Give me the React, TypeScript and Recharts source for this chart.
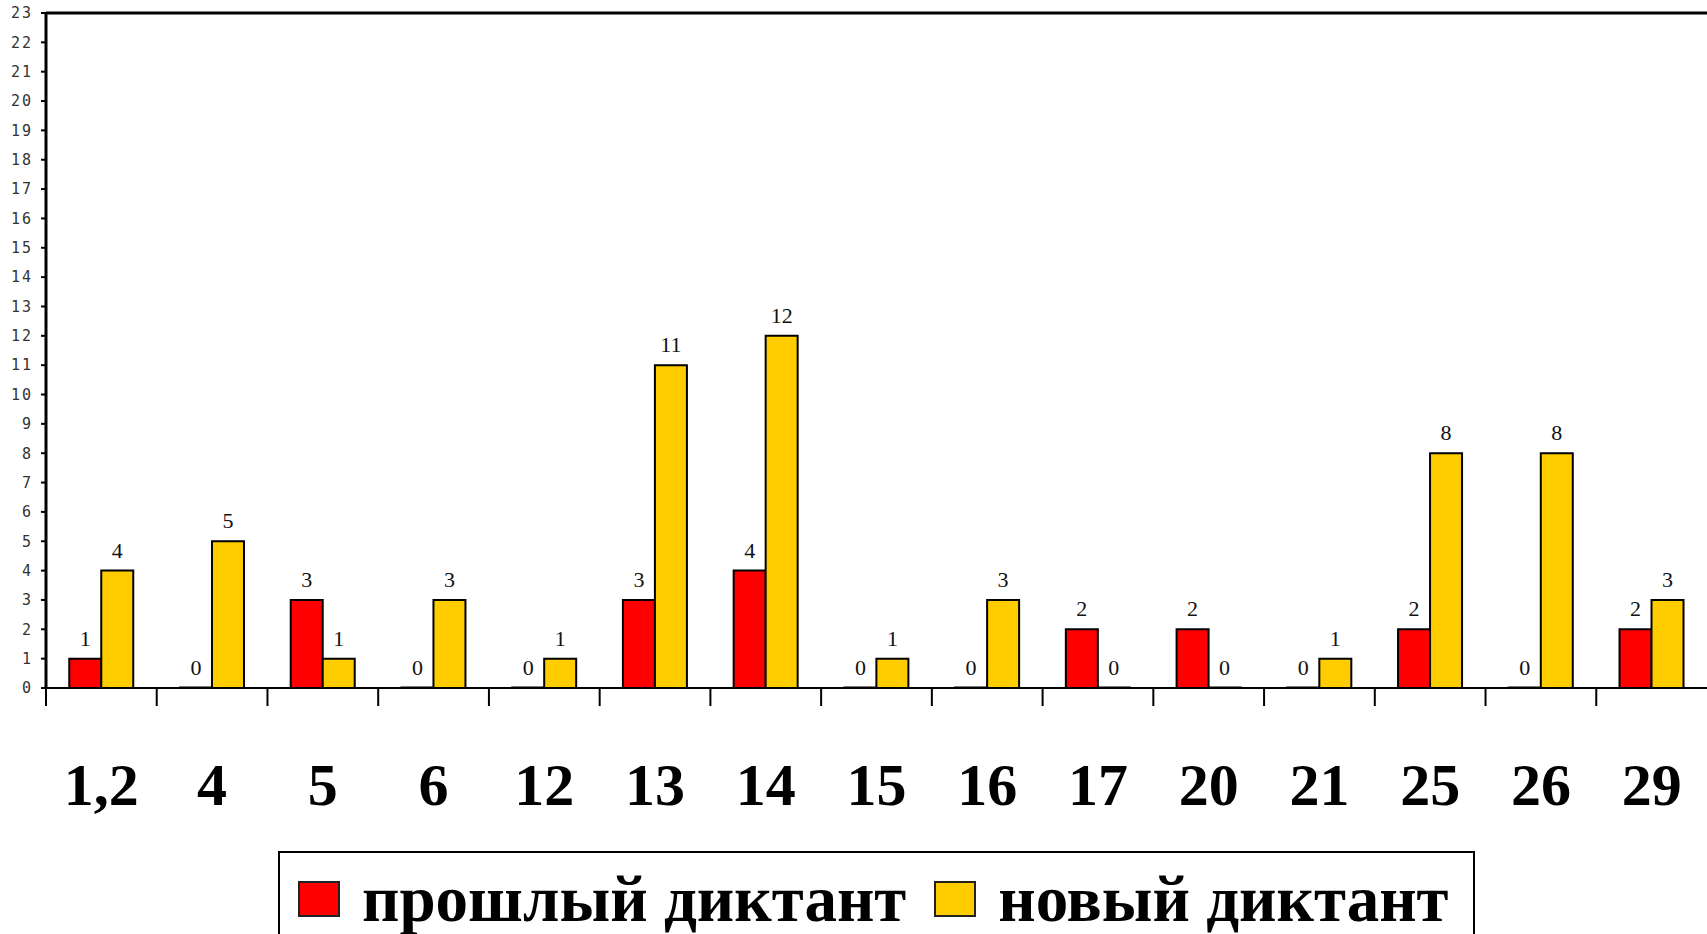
import React from "react"
import { BarChart, Bar, XAxis, YAxis, Legend, LabelList, ReferenceLine } from "recharts"

const categories = ["1,2", "4", "5", "6", "12", "13", "14", "15", "16", "17", "20", "21", "25", "26", "29"]
const previousDictation = [1, 0, 3, 0, 0, 3, 4, 0, 0, 2, 2, 0, 2, 0, 2]
const newDictation = [4, 5, 1, 3, 1, 11, 12, 1, 3, 0, 0, 1, 8, 8, 3]
const yTicks = [0, 1, 2, 3, 4, 5, 6, 7, 8, 9, 10, 11, 12, 13, 14, 15, 16, 17, 18, 19, 20, 21, 22, 23]
const seriesOrder = ["prev", "next"]

const W = 1707
const H = 934
const PLOT_LEFT = 46
const BAND = (W - PLOT_LEFT) / categories.length

const chartData = categories.map((name, i) => ({
  name,
  prev: previousDictation[i],
  next: newDictation[i],
}))

// zero-value bars still need a rect so their "0" label gets drawn
const keepZero = (value: any) => (value === 0 ? 0.5 : 0)

function CategoryTick(props: any) {
  const { x, y, payload } = props
  const edge = x - BAND / 2
  return (
    <g>
      <line x1={edge} x2={edge} y1={y} y2={y + 18} stroke="#000" strokeWidth={2} />
      <text
        x={x}
        y={y + 117}
        textAnchor="middle"
        fontFamily="Liberation Serif"
        fontWeight="bold"
        fontSize={60}
        fill="#000"
      >
        {payload.value}
      </text>
    </g>
  )
}

function BarValue(props: any) {
  const { x, y, width, value } = props
  if (value === undefined || value === null) return null
  return (
    <text
      x={x + width / 2}
      y={y - 13}
      textAnchor="middle"
      fontFamily="Liberation Serif"
      fontSize={22}
      fill="#111"
    >
      {value}
    </text>
  )
}

function LegendBox(props: any) {
  const items = [...(props.payload || [])].sort(
    (a: any, b: any) => seriesOrder.indexOf(a.dataKey) - seriesOrder.indexOf(b.dataKey)
  )
  return (
    <div
      style={{
        boxSizing: "border-box",
        width: 1197,
        height: 120,
        border: "2px solid #000",
        display: "flex",
        alignItems: "flex-start",
        paddingLeft: 18,
        paddingTop: 10,
        fontFamily: "Liberation Serif",
        fontWeight: "bold",
        fontSize: 65,
        lineHeight: "72px",
        color: "#000",
        whiteSpace: "nowrap",
      }}
    >
      {items.map((item: any) => (
        <div key={item.value} style={{ display: "flex", alignItems: "center", marginRight: 28, flexShrink: 0 }}>
          <span
            style={{
              display: "inline-block",
              width: 42,
              height: 36,
              background: item.color,
              border: "2px solid #222",
              boxSizing: "border-box",
              marginRight: 22,
              flexShrink: 0,
            }}
          />
          <span>{item.value}</span>
        </div>
      ))}
    </div>
  )
}

export default function App() {
  return (
    <div style={{ position: "absolute", left: 0, top: 0, width: W, height: H, overflow: "hidden", background: "#fff" }}>
      <BarChart
        width={W}
        height={H}
        data={chartData}
        margin={{ top: 13, right: 0, bottom: 0, left: 0 }}
        barCategoryGap="21%"
        barGap={0}
      >
        <XAxis
          dataKey="name"
          height={246}
          interval={0}
          tickLine={false}
          tickSize={0}
          tickMargin={0}
          axisLine={{ stroke: "#000", strokeWidth: 2 }}
          tick={<CategoryTick />}
        />
        <YAxis
          width={PLOT_LEFT}
          domain={[0, 23]}
          ticks={yTicks}
          interval={0}
          tickSize={5}
          tickMargin={8}
          tickLine={{ stroke: "#000", strokeWidth: 2 }}
          axisLine={{ stroke: "#000", strokeWidth: 3 }}
          tick={{ fontFamily: "DejaVu Sans Mono", fontSize: 15, fill: "#333", letterSpacing: 2 }}
        />
        <ReferenceLine y={23} stroke="#000" strokeWidth={3} />
        <Legend
          layout="horizontal"
          verticalAlign="middle"
          align="center"
          wrapperStyle={{ left: 278, top: 851, width: 1197 }}
          content={<LegendBox />}
        />
        <Bar
          dataKey="prev"
          name="прошлый диктант"
          fill="#FF0000"
          stroke="#000"
          strokeWidth={2}
          minPointSize={keepZero}
          isAnimationActive={false}
        >
          <LabelList dataKey="prev" content={<BarValue />} />
        </Bar>
        <Bar
          dataKey="next"
          name="новый диктант"
          fill="#FFCC00"
          stroke="#000"
          strokeWidth={2}
          minPointSize={keepZero}
          isAnimationActive={false}
        >
          <LabelList dataKey="next" content={<BarValue />} />
        </Bar>
      </BarChart>
    </div>
  )
}
